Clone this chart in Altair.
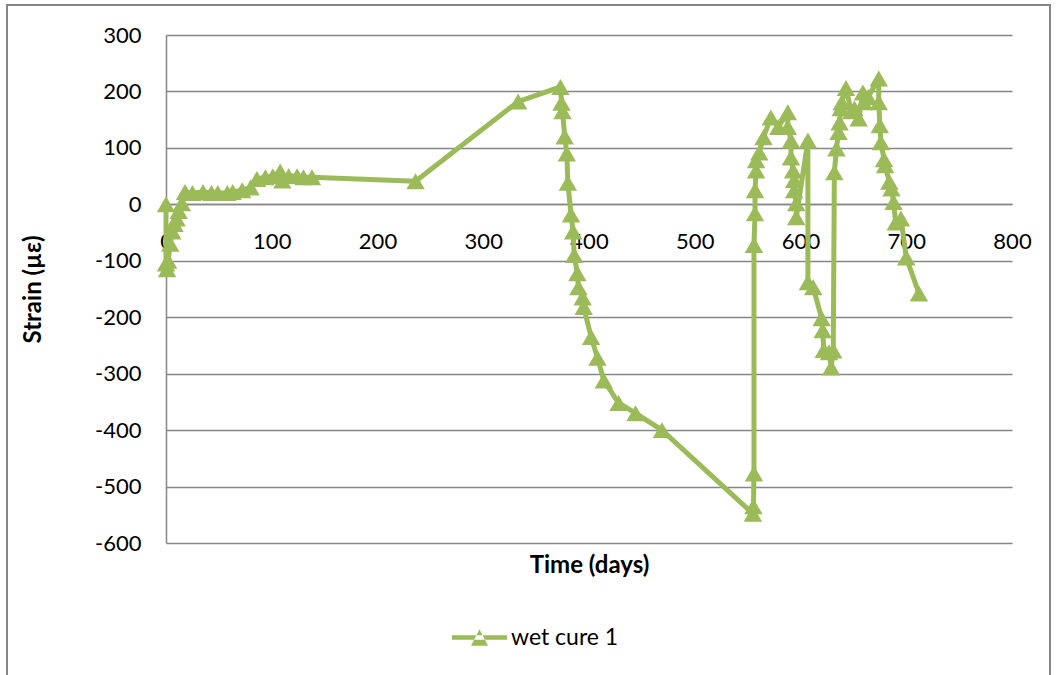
import altair as alt
import pandas as pd

# Time (days) and strain (microstrain), in plotting order
days = [0, 0, 1, 2, 4, 6, 8, 10, 12, 15, 18, 25, 35, 43, 49, 58, 63, 72, 80, 86,
        94, 101, 108, 110, 116, 124, 130, 138, 236, 333, 373,
        374, 375, 377, 379, 380, 383, 385, 386, 389, 390, 394, 395, 402, 408, 414,
        428, 444, 469, 555, 555.5, 556,
        556, 557, 557, 558, 558, 561, 565, 572, 579, 588, 588, 591, 591, 593, 594,
        594, 596, 596, 607, 607, 612, 620, 621, 622, 627, 629, 631,
        632, 634, 636, 637, 638, 639, 643, 648, 651, 655, 659, 660, 664, 674, 674,
        675, 676, 679, 680, 684, 686, 688, 690, 695, 700, 712]
strain = [0, -105, -115, -100, -70, -48, -35, -25, -12, 2, 22, 20, 22, 20, 20, 20, 22, 25, 30, 45,
          48, 50, 58, 42, 50, 50, 48, 48, 41, 182, 208,
          180, 165, 120, 90, 38, -18, -48, -90, -122, -147, -165, -182, -235, -272, -312,
          -352, -370, -400, -548, -535, -477,
          -72, -16, 25, 60, 78, 92, 119, 154, 137, 163, 137, 113, 83, 60, 43,
          25, 2, -23, 113, -138, -147, -202, -223, -258, -262, -289, -259,
          57, 99, 128, 145, 170, 181, 206, 165, 170, 152, 198, 181, 190, 223, 181,
          140, 110, 80, 69, 40, 28, 4, -32, -25, -94, -158]
series_name = "wet cure 1"
x_ticks = [0, 100, 200, 300, 400, 500, 600, 700, 800]
y_ticks = [-600, -500, -400, -300, -200, -100, 0, 100, 200, 300]

df = pd.DataFrame({"idx": list(range(len(days))), "day": days, "strain": strain,
                   "series": [series_name] * len(days)})

GREEN = "#9BBB59"
GRID = "#868686"
FONT = "Lato"
W, H = 846, 508

xs = alt.X("day:Q", scale=alt.Scale(domain=[0, 800], nice=False),
           axis=alt.Axis(values=x_ticks, grid=False, ticks=False, domain=True,
                         domainColor=GRID, domainWidth=1.5, offset=-339,
                         labelPadding=27, labelFontSize=22, labelFont=FONT,
                         labelColor="black", labelFlush=False,
                         labelExpr="'' + datum.value",
                         title="Time (days)", titleFont=FONT, titleFontSize=24,
                         titleFontWeight="bold", titleColor="black",
                         titleX=423, titleY=361, titleBaseline="middle",
                         titleAlign="center"))
ys = alt.Y("strain:Q", scale=alt.Scale(domain=[-600, 300], nice=False, zero=False),
           axis=alt.Axis(values=y_ticks, grid=True, gridColor=GRID, gridWidth=1.5,
                         ticks=False, domain=True, domainColor=GRID, domainWidth=1.5,
                         labelPadding=25, labelFontSize=22, labelFont=FONT,
                         labelColor="black", labelFlush=False,
                         labelExpr="'' + datum.value",
                         title="Strain (µε)", titleFont=FONT, titleFontSize=24,
                         titleFontWeight="bold", titleColor="black",
                         titleAngle=270, titleX=-133, titleY=254,
                         titleAlign="center", titleBaseline="middle"))

legend_path = ("M-1,-0.08 L1,-0.08 L1,0.08 L-1,0.08 Z "
               "M0,-0.3 L-0.31,0.3 L0.31,0.3 Z")
legend = alt.Legend(title=None, orient="none", legendX=286, legendY=575,
                    symbolType=legend_path, symbolSize=3025,
                    symbolFillColor=GREEN, symbolStrokeColor=GREEN, symbolStrokeWidth=0,
                    labelFont=FONT, labelFontSize=23, labelColor="black",
                    labelOffset=4, padding=0)
color = alt.Color("series:N", scale=alt.Scale(domain=[series_name], range=[GREEN]),
                  legend=legend)

base = alt.Chart(df)
line = base.mark_line(strokeWidth=5, strokeJoin="round").encode(
    x=xs, y=ys, order="idx:Q", color=color)
points = base.mark_point(shape="triangle-up", filled=True, size=340, opacity=1).encode(
    x="day:Q", y="strain:Q", color=color)

frame = alt.Chart(pd.DataFrame({"a": [0]})).mark_rect(
    fillOpacity=0, stroke=GRID, strokeWidth=2).encode(
    x=alt.value(-159), x2=alt.value(884), y=alt.value(-30), y2=alt.value(660))

chart = alt.layer(frame, line, points).properties(
    width=W, height=H,
    autosize=alt.AutoSizeParams(type="none"),
    padding={"left": 166, "top": 35, "right": 46, "bottom": 132},
    background="white",
).configure_view(stroke=None)

chart.save("out.html", embed_options={"renderer": "svg", "actions": False})
